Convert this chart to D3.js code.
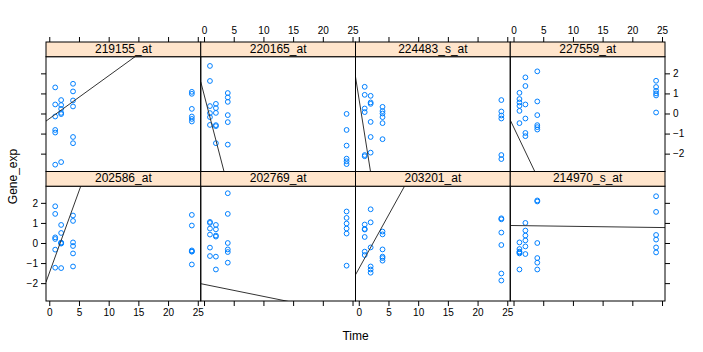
<!DOCTYPE html>
<html>
<head>
<meta charset="utf-8">
<script src="https://cdn.jsdelivr.net/npm/d3@7"></script>
<style>
  body { margin: 0; background: #fff; }
  text { font-family: "Liberation Sans", Arial, Helvetica, sans-serif; fill: #000; }
</style>
</head>
<body>
<div id="chart"></div>
<script>
(function () {
    "use strict";

    // panel names, top row first (lattice draws bottom row first)
    const genes = [
        "219155_at", "220165_at", "224483_s_at", "227559_at",
        "202586_at", "202769_at", "203201_at", "214970_s_at"
    ];

    // sampling times, 6 replicates each
    const times = [1, 2, 4, 24];

    // Gene_exp values per panel, grouped by time (1, 2, 4, 24)
    const exp219155 = [
        [1.30, 0.45, -0.15, -0.82, -0.95, -2.55],
        [0.67, 0.42, 0.23, 0.03, -0.03, -2.42],
        [1.48, 1.10, 0.65, 0.35, -1.17, -1.48],
        [1.08, 0.98, 0.23, -0.15, -0.27, -0.40]
    ];
    const exp220165 = [
        [2.37, 1.62, 0.37, 0.02, -0.18, -0.57],
        [0.48, 0.27, 0.03, -0.58, -0.63, -1.48],
        [1.02, 0.80, 0.58, -0.08, -0.43, -1.55],
        [-0.02, -0.82, -1.60, -2.25, -2.38, -2.52]
    ];
    const exp224483 = [
        [1.33, 0.93, 0.25, 0.07, -2.07, -2.13],
        [0.88, 0.55, 0.48, -0.42, -1.17, -1.95],
        [0.33, 0.12, 0.00, -0.18, -0.48, -1.28],
        [0.67, 0.10, -0.10, -0.25, -2.07, -2.27]
    ];
    const exp227559 = [
        [1.03, 0.72, 0.55, 0.38, 0.13, -0.48],
        [1.80, 1.37, 0.45, -0.25, -0.97, -1.13],
        [2.10, 0.60, -0.08, -0.58, -0.68, -0.80],
        [1.63, 1.32, 1.13, 1.00, 0.90, 0.05]
    ];
    const exp202586 = [
        [1.83, 1.45, 0.28, 0.20, -0.33, -1.23],
        [0.90, 0.50, 0.02, 0.00, -0.03, -1.25],
        [1.37, 1.10, 0.03, -0.15, -0.52, -1.17],
        [1.40, 0.87, -0.37, -0.42, -0.43, -1.07]
    ];
    const exp202769 = [
        [1.05, 1.00, 0.72, 0.42, -0.23, -0.65],
        [0.90, 0.68, 0.37, 0.32, -0.68, -1.32],
        [2.48, 1.45, 0.00, -0.32, -0.45, -0.98],
        [1.57, 1.25, 0.97, 0.72, 0.47, -1.13]
    ];
    const exp203201 = [
        [0.92, 0.70, 0.67, 0.30, -0.43, -0.60],
        [1.68, 1.03, -0.22, -1.17, -1.32, -1.48],
        [0.57, 0.43, -0.32, -0.68, -0.75, -0.88],
        [1.23, 1.18, 0.52, -0.10, -1.52, -1.87]
    ];
    const exp214970 = [
        [0.03, -0.30, -0.43, -0.47, -0.52, -1.32],
        [1.00, 0.62, 0.37, 0.13, -0.17, -0.55],
        [2.12, 2.07, 0.00, -0.75, -0.98, -1.32],
        [2.33, 1.55, 0.40, 0.17, -0.22, -0.47]
    ];
    const expression = [exp219155, exp220165, exp224483, exp227559,
                        exp202586, exp202769, exp203201, exp214970];

    // the straight line in each panel (intercept, slope)
    const intercepts = [-0.26, 0.95, 0.80, -0.67, -1.50, -2.06, -1.29, 0.87];
    const slopes = [0.214, -1.14, -1.87, -0.62, 0.817, -0.06, 0.535, -0.004];

    const xTicks = [0, 5, 10, 15, 20, 25];
    const yTicks = [-2, -1, 0, 1, 2];

    const width = 703, height = 352;
    const left = 46, right = 665, top = 42, bottom = 301;
    const ncol = 4, nrow = 2;
    const pw = (right - left) / ncol;
    const rowH = (bottom - top) / nrow;
    const stripH = 14.7;
    const ph = rowH - stripH;

    const x = d3.scaleLinear().domain([-0.55, 25.5]).range([0, pw]);
    const y = d3.scaleLinear().domain([-2.89, 2.83]).range([ph, 0]);

    const svg = d3.select("#chart").append("svg")
        .attr("width", width).attr("height", height);

    genes.forEach((gene, i) => {
        let col = i % ncol;
        let row = Math.floor(i / ncol);
        let px = left + col * pw;
        let py = top + row * rowH + stripH;

        let g = svg.append("g").attr("transform", `translate(${px},${py})`);

        let clipId = "clip" + i;
        g.append("clipPath").attr("id", clipId)
            .append("rect").attr("width", pw).attr("height", ph);

        // points
        let pts = [];
        times.forEach((t, k) => expression[i][k].forEach((v) => pts.push([t, v])));
        g.append("g").selectAll("circle")
            .data(pts)
            .enter()
            .append("circle")
            .attr("cx", (d) => x(d[0]))
            .attr("cy", (d) => y(d[1]))
            .attr("r", 2.4)
            .attr("fill", "none")
            .attr("stroke", "#0080ff")
            .attr("stroke-width", 1);

        // line
        let xd = x.domain();
        g.append("line")
            .attr("clip-path", `url(#${clipId})`)
            .attr("x1", x(xd[0])).attr("y1", y(intercepts[i] + slopes[i] * xd[0]))
            .attr("x2", x(xd[1])).attr("y2", y(intercepts[i] + slopes[i] * xd[1]))
            .attr("stroke", "#333")
            .attr("stroke-width", 1);

        // panel border
        g.append("rect").attr("width", pw).attr("height", ph)
            .attr("fill", "none").attr("stroke", "#000");

        // strip
        let s = svg.append("g").attr("transform", `translate(${px},${py - stripH})`);
        s.append("rect").attr("width", pw).attr("height", stripH)
            .attr("fill", "#ffe5cc").attr("stroke", "#000");
        s.append("text")
            .attr("x", pw / 2).attr("y", stripH / 2 + 3.6)
            .attr("text-anchor", "middle")
            .style("font-size", "12px")
            .text(gene);

        // axes, lattice alternating style
        if (row === 0) {
            let ax = d3.axisTop(x).tickValues(xTicks).tickSizeInner(5).tickSizeOuter(0)
                .tickFormat(col % 2 === 1 ? d3.format("d") : "");
            svg.append("g").attr("class", "axis")
                .attr("transform", `translate(${px},${top})`).call(ax);
        } else {
            let ax = d3.axisBottom(x).tickValues(xTicks).tickSizeInner(5).tickSizeOuter(0)
                .tickFormat(col % 2 === 0 ? d3.format("d") : "");
            svg.append("g").attr("class", "axis")
                .attr("transform", `translate(${px},${bottom})`).call(ax);
        }
        if (col === 0) {
            let ax = d3.axisLeft(y).tickValues(yTicks).tickSizeInner(5).tickSizeOuter(0)
                .tickFormat(row === 1 ? d3.format("d") : "");
            svg.append("g").attr("class", "axis")
                .attr("transform", `translate(${px},${py})`).call(ax);
        }
        if (col === ncol - 1) {
            let ax = d3.axisRight(y).tickValues(yTicks).tickSizeInner(5).tickSizeOuter(0)
                .tickFormat(row === 0 ? d3.format("d") : "");
            svg.append("g").attr("class", "axis")
                .attr("transform", `translate(${px + pw},${py})`).call(ax);
        }
    });

    svg.selectAll(".axis .domain").remove();
    svg.selectAll(".axis line").attr("stroke", "#000");
    svg.selectAll(".axis text")
        .attr("font-family", "Liberation Sans, Arial, sans-serif")
        .attr("font-size", 10)
        .attr("fill", "#000");

    svg.append("text")
        .attr("x", (left + right) / 2).attr("y", 340)
        .attr("text-anchor", "middle")
        .style("font-size", "12px")
        .text("Time");

    svg.append("text")
        .attr("transform", `translate(17,${(top + bottom) / 2 + 5}) rotate(-90)`)
        .attr("text-anchor", "middle")
        .style("font-size", "12px")
        .text("Gene_exp");
})();
</script>
</body>
</html>
